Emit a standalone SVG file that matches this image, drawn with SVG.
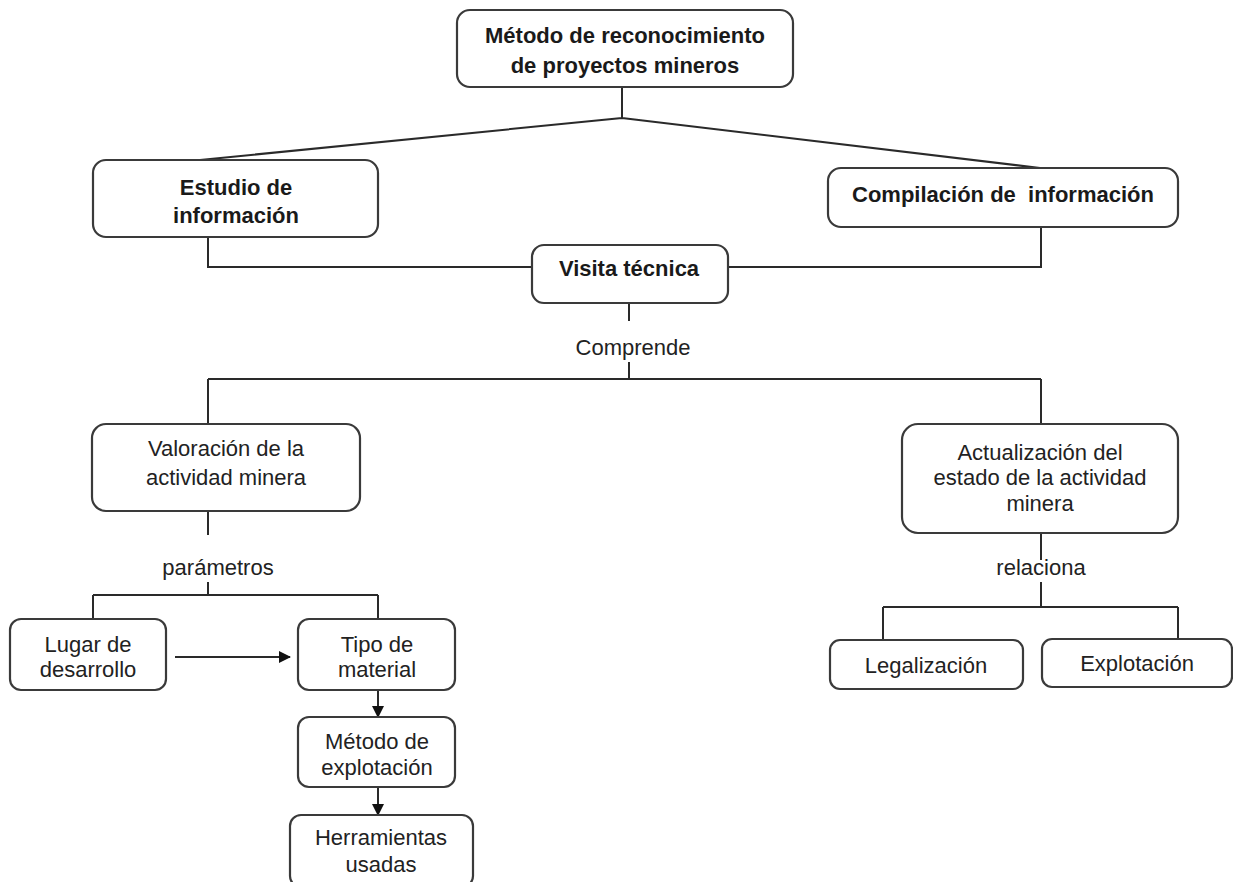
<svg xmlns="http://www.w3.org/2000/svg" width="1233" height="882" viewBox="0 0 1233 882">
<style>
.box{fill:#fff;stroke:#3a3a3a;stroke-width:2.2}
.t{font-family:"Liberation Sans",Arial,sans-serif;font-size:22px;fill:#222;text-anchor:middle}
.b{font-weight:bold;fill:#1a1a1a}
.ln{fill:none;stroke:#2a2a2a;stroke-width:2}
</style>
<defs>
<marker id="ah" markerWidth="12" markerHeight="12" refX="11" refY="6" orient="auto" markerUnits="userSpaceOnUse">
<path d="M0,0 L12,6 L0,12 Z" fill="#111"/>
</marker>
</defs>
<g id="connectors">
<path class="ln" d="M622,87 V118 M622,118 L200,160 M622,118 L1040,168"/>
<path class="ln" d="M208,237 V267 H532 M1041,227 V267 H728"/>
<path class="ln" d="M629,303 V321 M629,362 V379 M208,379 H1041 M208,379 V424 M1041,379 V424"/>
<path class="ln" d="M208,511 V535 M208,582 V595 M93,595 H378 M93,595 V619 M378,595 V619"/>
<path class="ln" d="M1041,533 V560 M1041,582 V607 M883,607 H1178 M883,607 V640 M1178,607 V640"/>
<path class="ln" d="M175,657 H290" marker-end="url(#ah)"/>
<path class="ln" d="M378,690 V717" marker-end="url(#ah)"/>
<path class="ln" d="M378,787 V815" marker-end="url(#ah)"/>
</g>
<g id="n1"><rect class="box" x="457" y="10" width="336" height="77" rx="13"/>
<text class="t b" x="625" y="43">Método de reconocimiento</text>
<text class="t b" x="625" y="73">de proyectos mineros</text></g>
<g id="n2"><rect class="box" x="93" y="160" width="285" height="77" rx="13"/>
<text class="t b" x="236" y="195">Estudio de</text>
<text class="t b" x="236" y="223">información</text></g>
<g id="n3"><rect class="box" x="828" y="168" width="350" height="59" rx="13"/>
<text class="t b" x="1003" y="202" xml:space="preserve">Compilación de  información</text></g>
<g id="n4"><rect class="box" x="532" y="245" width="196" height="58" rx="12"/>
<text class="t b" x="629" y="276">Visita técnica</text></g>
<text class="t" x="633" y="355">Comprende</text>
<g id="n5"><rect class="box" x="92" y="424" width="268" height="87" rx="14"/>
<text class="t" x="226" y="456">Valoración de la</text>
<text class="t" x="226" y="485">actividad minera</text></g>
<text class="t" x="218" y="575">parámetros</text>
<g id="n6"><rect class="box" x="902" y="424" width="276" height="109" rx="16"/>
<text class="t" x="1040" y="460">Actualización del</text>
<text class="t" x="1040" y="485">estado de la actividad</text>
<text class="t" x="1040" y="511">minera</text></g>
<text class="t" x="1041" y="575">relaciona</text>
<g id="n7"><rect class="box" x="10" y="619" width="156" height="71" rx="11"/>
<text class="t" x="88" y="652">Lugar de</text>
<text class="t" x="88" y="677">desarrollo</text></g>
<g id="n8"><rect class="box" x="298" y="619" width="157" height="71" rx="11"/>
<text class="t" x="377" y="652">Tipo de</text>
<text class="t" x="377" y="677">material</text></g>
<g id="n9"><rect class="box" x="298" y="717" width="157" height="70" rx="11"/>
<text class="t" x="377" y="749">Método de</text>
<text class="t" x="377" y="775">explotación</text></g>
<g id="n10"><rect class="box" x="290" y="815" width="183" height="72" rx="11"/>
<text class="t" x="381" y="845">Herramientas</text>
<text class="t" x="381" y="872">usadas</text></g>
<g id="n11"><rect class="box" x="830" y="640" width="193" height="49" rx="10"/>
<text class="t" x="926" y="673">Legalización</text></g>
<g id="n12"><rect class="box" x="1042" y="639" width="190" height="48" rx="10"/>
<text class="t" x="1137" y="671">Explotación</text></g>
</svg>
